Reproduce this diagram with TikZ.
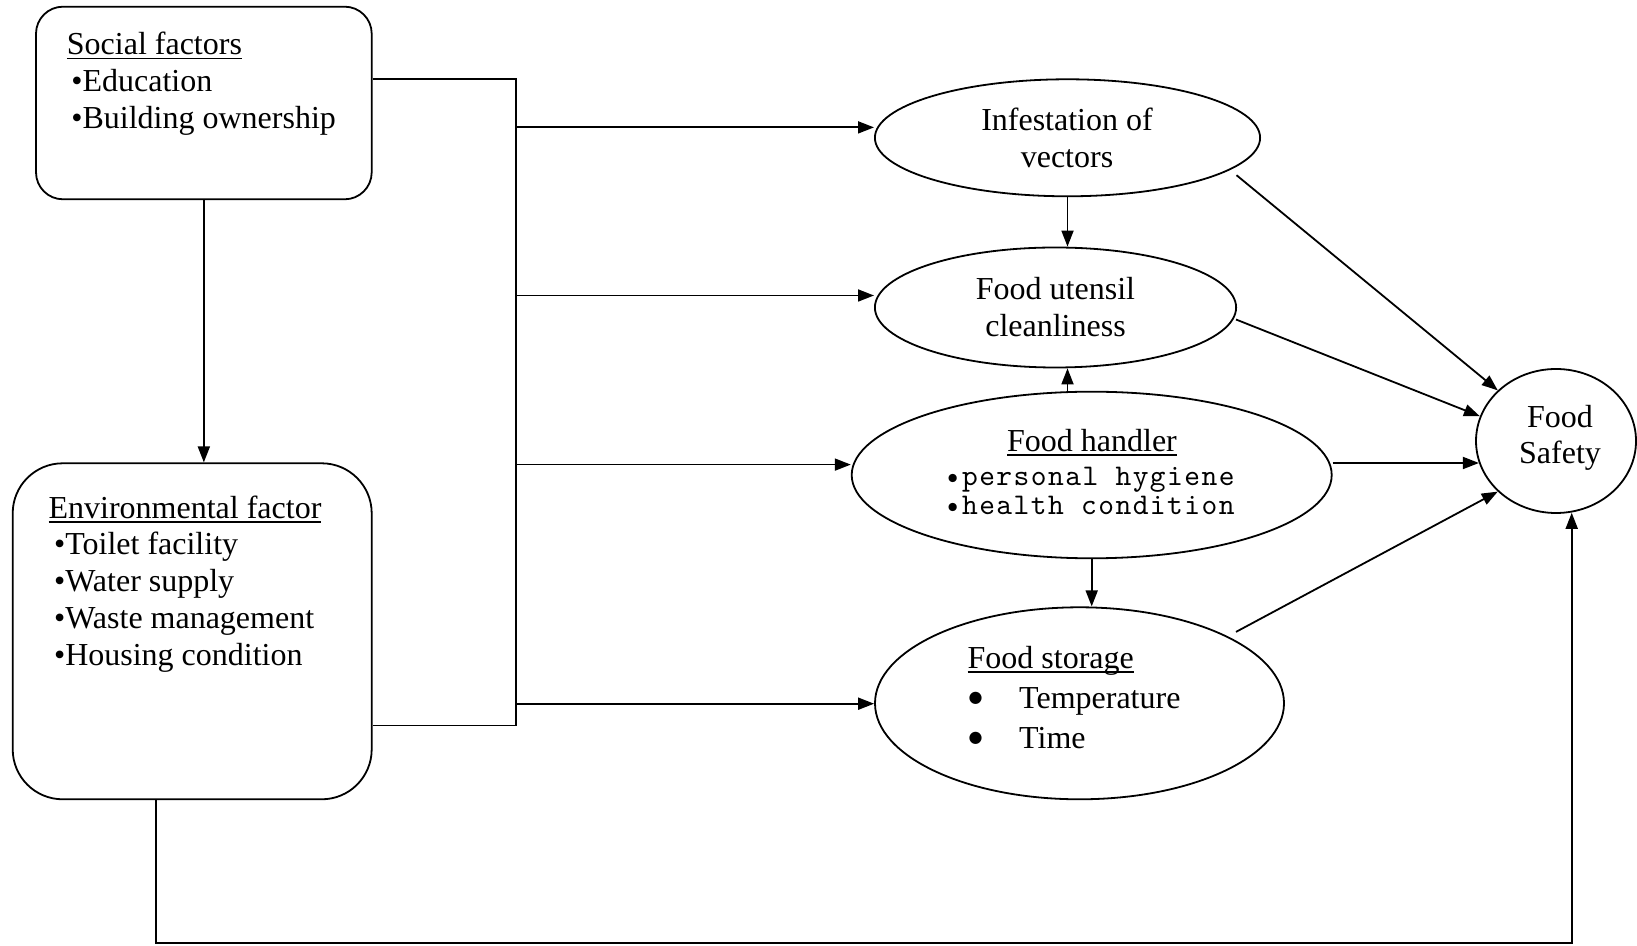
\documentclass[tikz,border=0pt]{standalone}
\usepackage{fontspec}
\setmainfont{Liberation Serif}
\newfontfamily\lmmono{lmmono10-regular.otf}[LetterSpace=4.9]
\newfontfamily\djv{DejaVu Sans}
\usetikzlibrary{arrows.meta,shapes.geometric,calc}
\newcommand{\myul}[1]{\leavevmode\setbox0\hbox{#1}\rlap{\rule[-4.5pt]{\wd0}{1.7pt}}\box0}
\newcommand{\bigbul}{\raisebox{5.5pt}{\djv\fontsize{16}{16}\selectfont ●}}
\begin{document}
\begin{tikzpicture}[x=1pt,y=1pt,
  line width=1.8pt,
  arr/.style={-{Triangle[length=16pt,width=12pt]}},
  ell/.style={draw, ellipse, inner sep=0pt},
  rbox/.style={draw, rectangle, inner sep=0pt},
  txt/.style={inner sep=0pt, font=\fontsize{32}{36.7}\selectfont},
  mono/.style={inner sep=0pt, font=\lmmono\fontsize{30}{29}\selectfont}]
\useasboundingbox (0,0) rectangle (1637,945);

% boxes
\node[rbox, rounded corners=27pt, minimum width=335.7pt, minimum height=192.6pt] (soc) at (203.85,842) {};
\node[rbox, rounded corners=50pt, minimum width=359pt, minimum height=336pt] (env) at (192.2,313.7) {};

\node[txt, anchor=base west] (soct) at (66,890) {\parbox[t]{300pt}{\myul{Social factors}\\\hspace*{4.5pt}•Education\\\hspace*{4.5pt}•Building ownership}};
\node[txt, anchor=base west] (envt) at (47.7,426.7) {\parbox[t]{320pt}{\myul{Environmental factor}\\\hspace*{5.5pt}•Toilet facility\\\hspace*{5.5pt}•Water supply\\\hspace*{5.5pt}•Waste management\\\hspace*{5.5pt}•Housing condition}};

% ellipses
\node[ell, minimum width=385.2pt, minimum height=117pt] (inf) at (1067.5,807.2) {};
\node[ell, minimum width=361.2pt, minimum height=120pt] (ute) at (1055.5,637.5) {};
\node[ell, minimum width=480pt, minimum height=166.6pt] (hand) at (1091.7,470) {};
\node[ell, minimum width=409pt, minimum height=192pt] (sto) at (1079.5,241.7) {};
\node[ell, minimum width=160pt, minimum height=144pt] (fs) at (1556,504) {};

\node[txt, anchor=base] (inft) at (1067,814) {\parbox[t]{300pt}{\centering Infestation of\\vectors}};
\node[txt, anchor=base] (utet) at (1055.5,645) {\parbox[t]{300pt}{\centering Food utensil\\cleanliness}};
\node[txt, anchor=base] (handt) at (1092,493.3) {\myul{Food handler}};
\node[mono, anchor=base] (handm) at (1089.7,459) {\parbox[t]{340pt}{\centering •personal hygiene\\•health condition}};
\node[txt, anchor=base west] (stot) at (966.7,276.7) {\parbox[t]{300pt}{\baselineskip=40pt \myul{Food storage}\\\makebox[51.6pt][l]{\hspace*{1pt}\bigbul}Temperature\\\makebox[51.6pt][l]{\hspace*{1pt}\bigbul}Time}};
\node[txt, anchor=base] (fst) at (1560,517.7) {\parbox[t]{150pt}{\centering Food\\Safety}};

% trunk
\coordinate (tTop) at (515.7,865.7);
\coordinate (tBot) at (515.7,219.4);
\draw (tTop -| soc.east) -- (tTop) -- (tBot) -- (tBot -| env.east);
\coordinate (a1) at (515.7,817.6);
\coordinate (a2) at (515.7,649.5);
\coordinate (a3) at (515.7,480.4);
\coordinate (a4) at (515.7,241.3);
\draw[arr] (a1) -- (a1 -| inf.west);
\draw[arr] (a2) -- (a2 -| ute.west);
\draw[arr] (a3) -- (a3 -| hand.west);
\draw[arr] (a4) -- (a4 -| sto.west);

\draw[arr] (soc.south) -- (soc.south |- env.north);

% vertical links
\draw[arr] (inf.south) -- (inf.south |- ute.north);
\draw[arr] (inf.south |- hand.north) -- (inf.south |- ute.south);
\draw[arr] (hand.south) -- (hand.south |- sto.north);

% to food safety
\draw[arr] ($(inf.center)+(169,-37.4)$) -- (fs.139);
\draw[arr] ($(ute.center)+(180.5,-12)$) -- (fs.162);
\coordinate (h1) at ($(hand.east)+(0,12)$);
\draw[arr] (h1) -- (h1 -| fs.196);
\draw[arr] ($(sto.center)+(156.5,71.4)$) -- (fs.221);

% bottom loop
\coordinate (bl) at (156,1.7);
\coordinate (br) at (1571.7,1.7);
\draw[arr] (bl |- env.south) -- (bl) -- (br) -- (br |- fs.-79);
\end{tikzpicture}
\end{document}
